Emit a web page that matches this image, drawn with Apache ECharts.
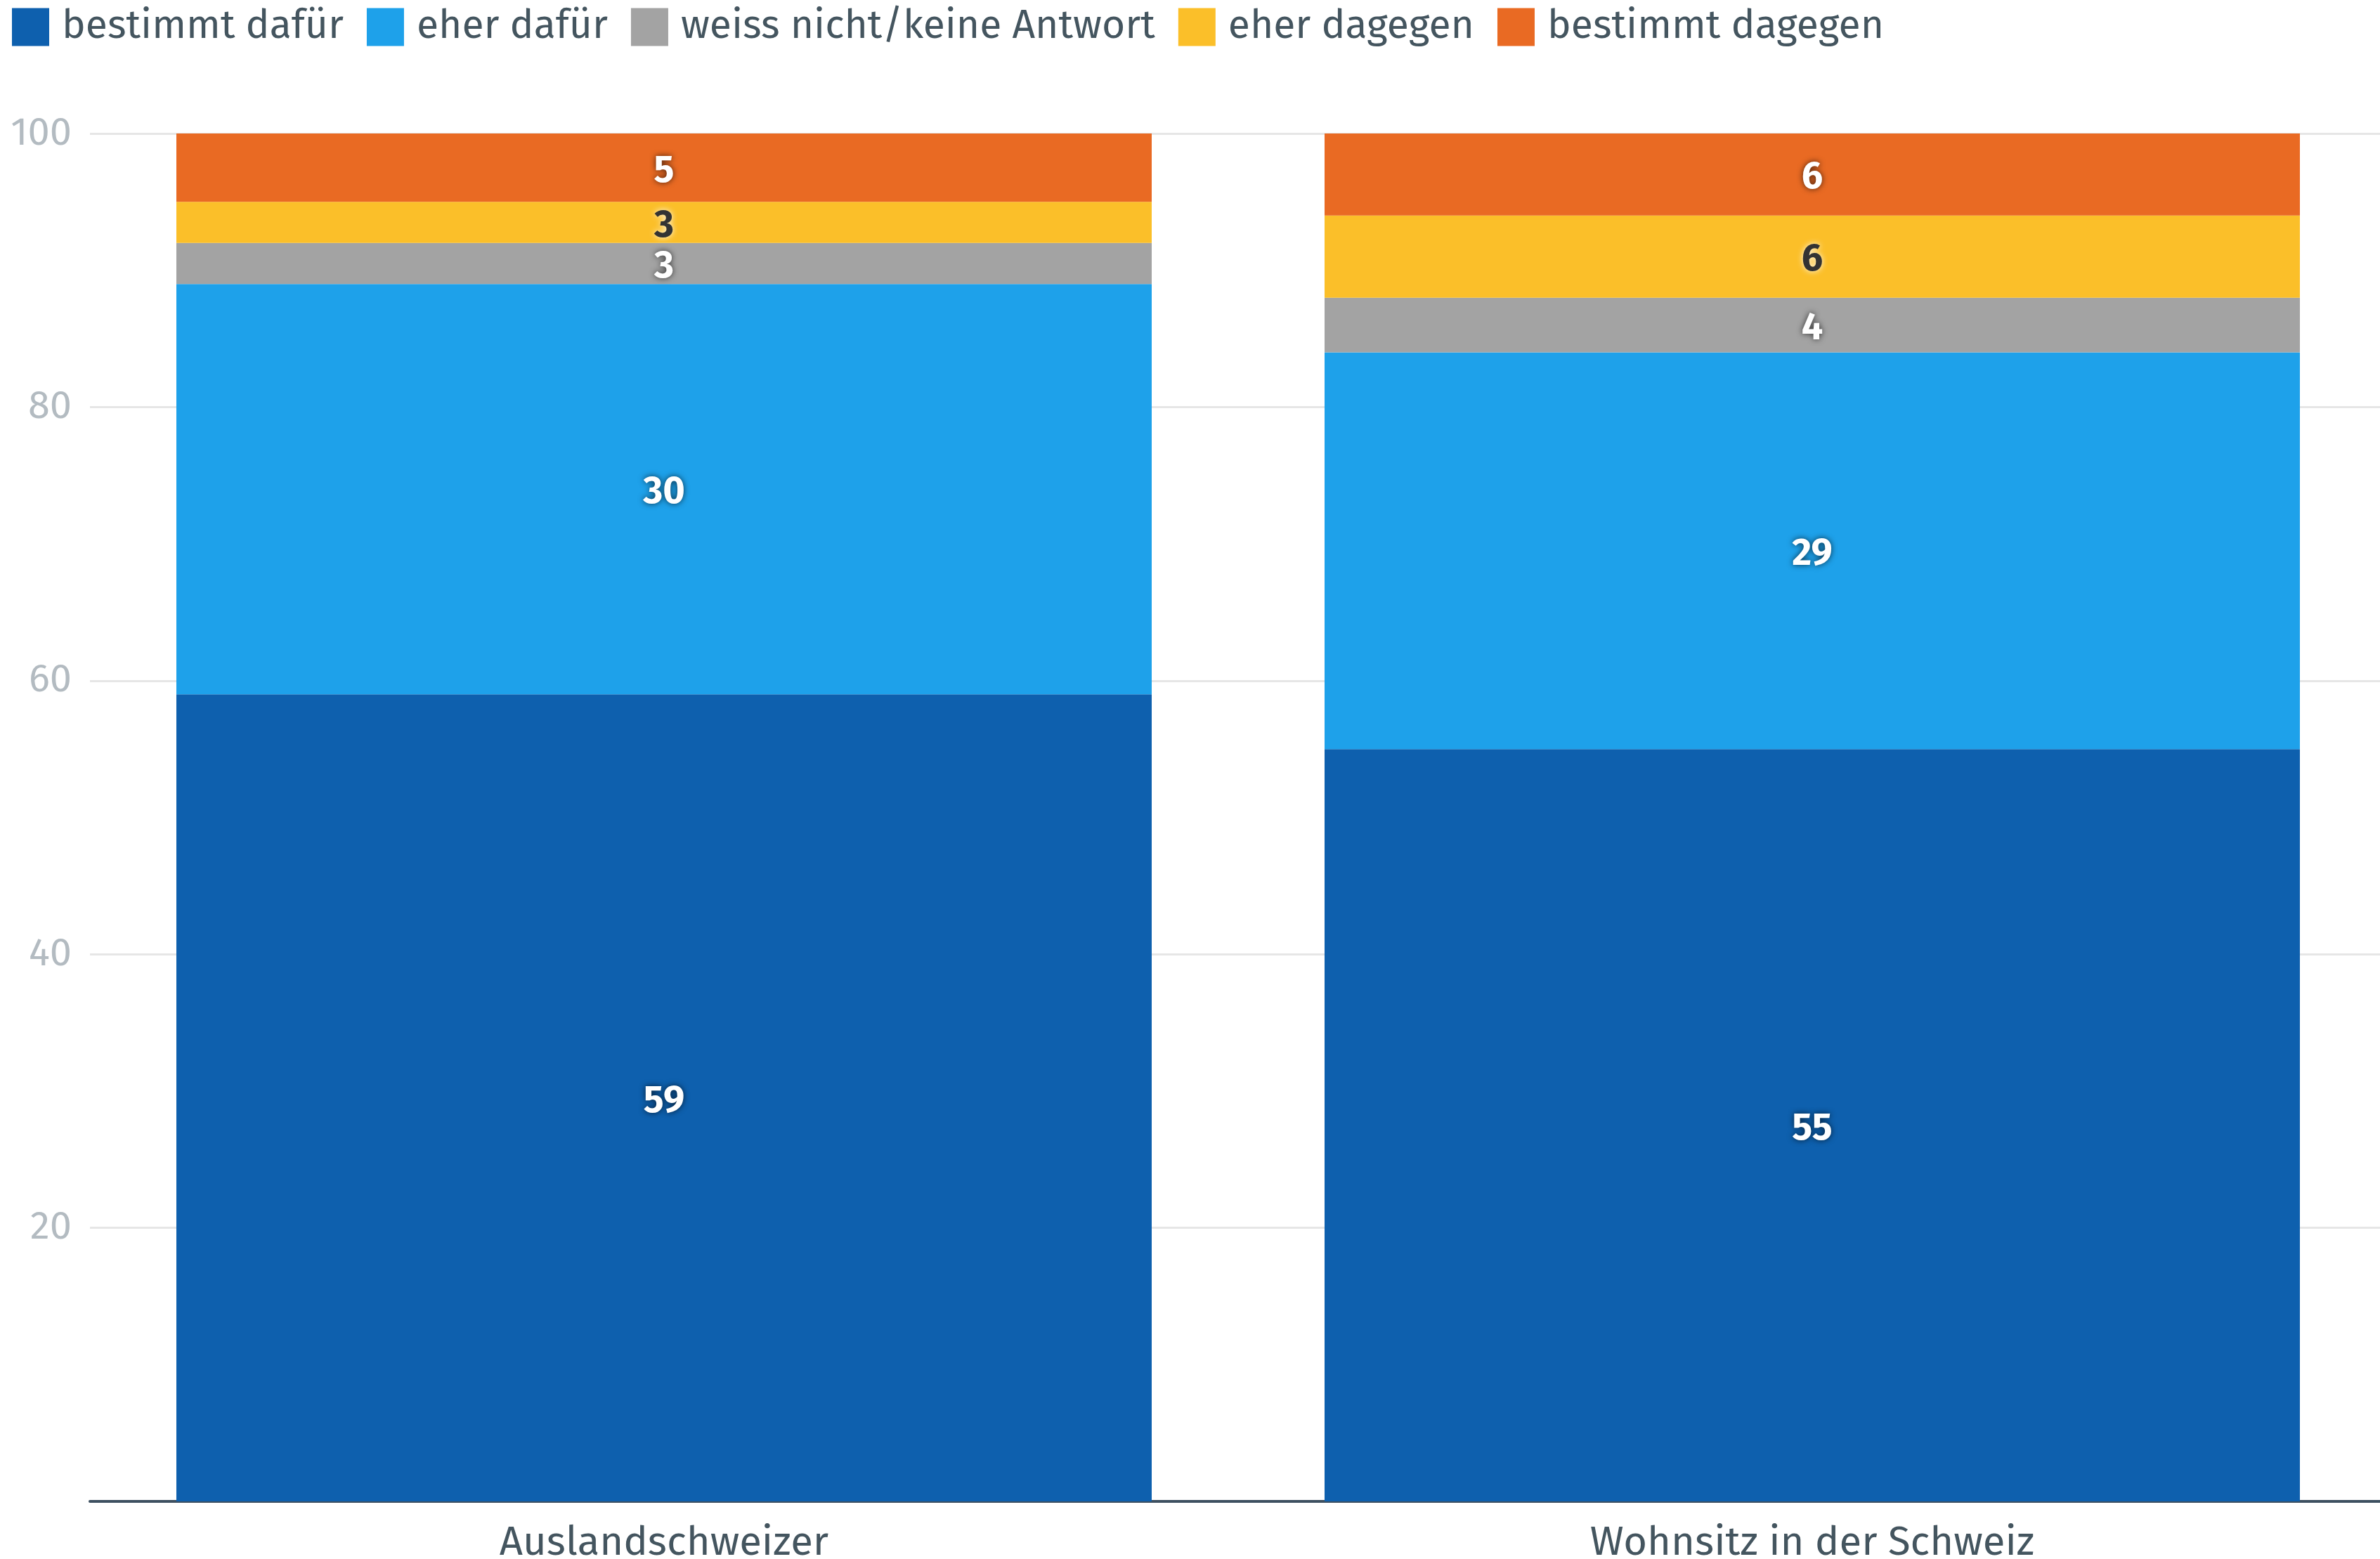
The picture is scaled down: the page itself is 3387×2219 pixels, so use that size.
<!DOCTYPE html>
<html>
<head>
<meta charset="utf-8">
<script src="https://cdn.jsdelivr.net/npm/echarts@6/dist/echarts.min.js"></script>
<style>
html,body{margin:0;padding:0;background:#fff;}
#chart{width:3387px;height:2219px;}
</style>
</head>
<body>
<div id="chart"></div>
<script>
const categories = ['Auslandschweizer', 'Wohnsitz in der Schweiz'];
const seriesNames = ['bestimmt dafür', 'eher dafür', 'weiss nicht/keine Antwort', 'eher dagegen', 'bestimmt dagegen'];
const bestimmtDafuer = [59, 55];
const eherDafuer = [30, 29];
const weissNicht = [3, 4];
const eherDagegen = [3, 6];
const bestimmtDagegen = [5, 6];
const yTicks = [0, 20, 40, 60, 80, 100];

const colors = ['#0e60ae', '#1ea1ea', '#a3a3a3', '#fbbf29', '#e96a23'];
const values = [bestimmtDafuer, eherDafuer, weissNicht, eherDagegen, bestimmtDagegen];
const FONT = 'Fira Sans, Roboto, Noto Sans, sans-serif';

const chart = echarts.init(document.getElementById('chart'), null, {renderer: 'canvas'});
const series = seriesNames.map((name, i) => ({
  name: name,
  type: 'bar',
  stack: 'total',
  barWidth: 1388,
  data: values[i],
  itemStyle: {color: colors[i]},
  label: {
    show: true,
    position: 'inside',
    offset: [0, 5],
    fontFamily: FONT,
    fontWeight: 'bold',
    fontSize: 54,
    color: i === 3 ? '#333333' : '#ffffff',
    textShadowColor: i === 3 ? 'rgba(255,255,255,0.9)' : 'rgba(0,0,0,0.7)',
    textShadowBlur: 8,
    textBorderWidth: 0
  },
  emphasis: {disabled: true}
}));

chart.setOption({
  animation: false,
  backgroundColor: '#ffffff',
  legend: {
    left: 17,
    top: 10,
    padding: 0,
    itemWidth: 53,
    itemHeight: 54,
    itemGap: 33,
    icon: 'rect',
    data: seriesNames,
    textStyle: {
      fontFamily: FONT,
      fontSize: 57,
      color: '#44555f',
      padding: [4, 0, 0, 13]
    },
    selectedMode: false
  },
  grid: {left: 128, width: 3268, top: 190, bottom: 82, outerBoundsMode: 'none', containLabel: false},
  xAxis: {
    type: 'category',
    data: categories,
    axisLine: {lineStyle: {color: '#3d5060', width: 4}},
    axisTick: {show: false},
    axisLabel: {
      fontFamily: FONT,
      fontSize: 58,
      color: '#44555f',
      margin: 31
    },
    splitLine: {show: false}
  },
  yAxis: {
    type: 'value',
    min: yTicks[0],
    max: yTicks[yTicks.length - 1],
    interval: 20,
    axisLine: {show: false},
    axisTick: {show: false},
    axisLabel: {
      fontFamily: FONT,
      fontSize: 56,
      color: '#b3bbc1',
      margin: 26,
      padding: [8, 0, 0, 0],
      formatter: v => (v === 0 ? '' : String(v))
    },
    splitLine: {lineStyle: {color: '#e6e6e6', width: 3}}
  },
  series: series
});
</script>
</body>
</html>
